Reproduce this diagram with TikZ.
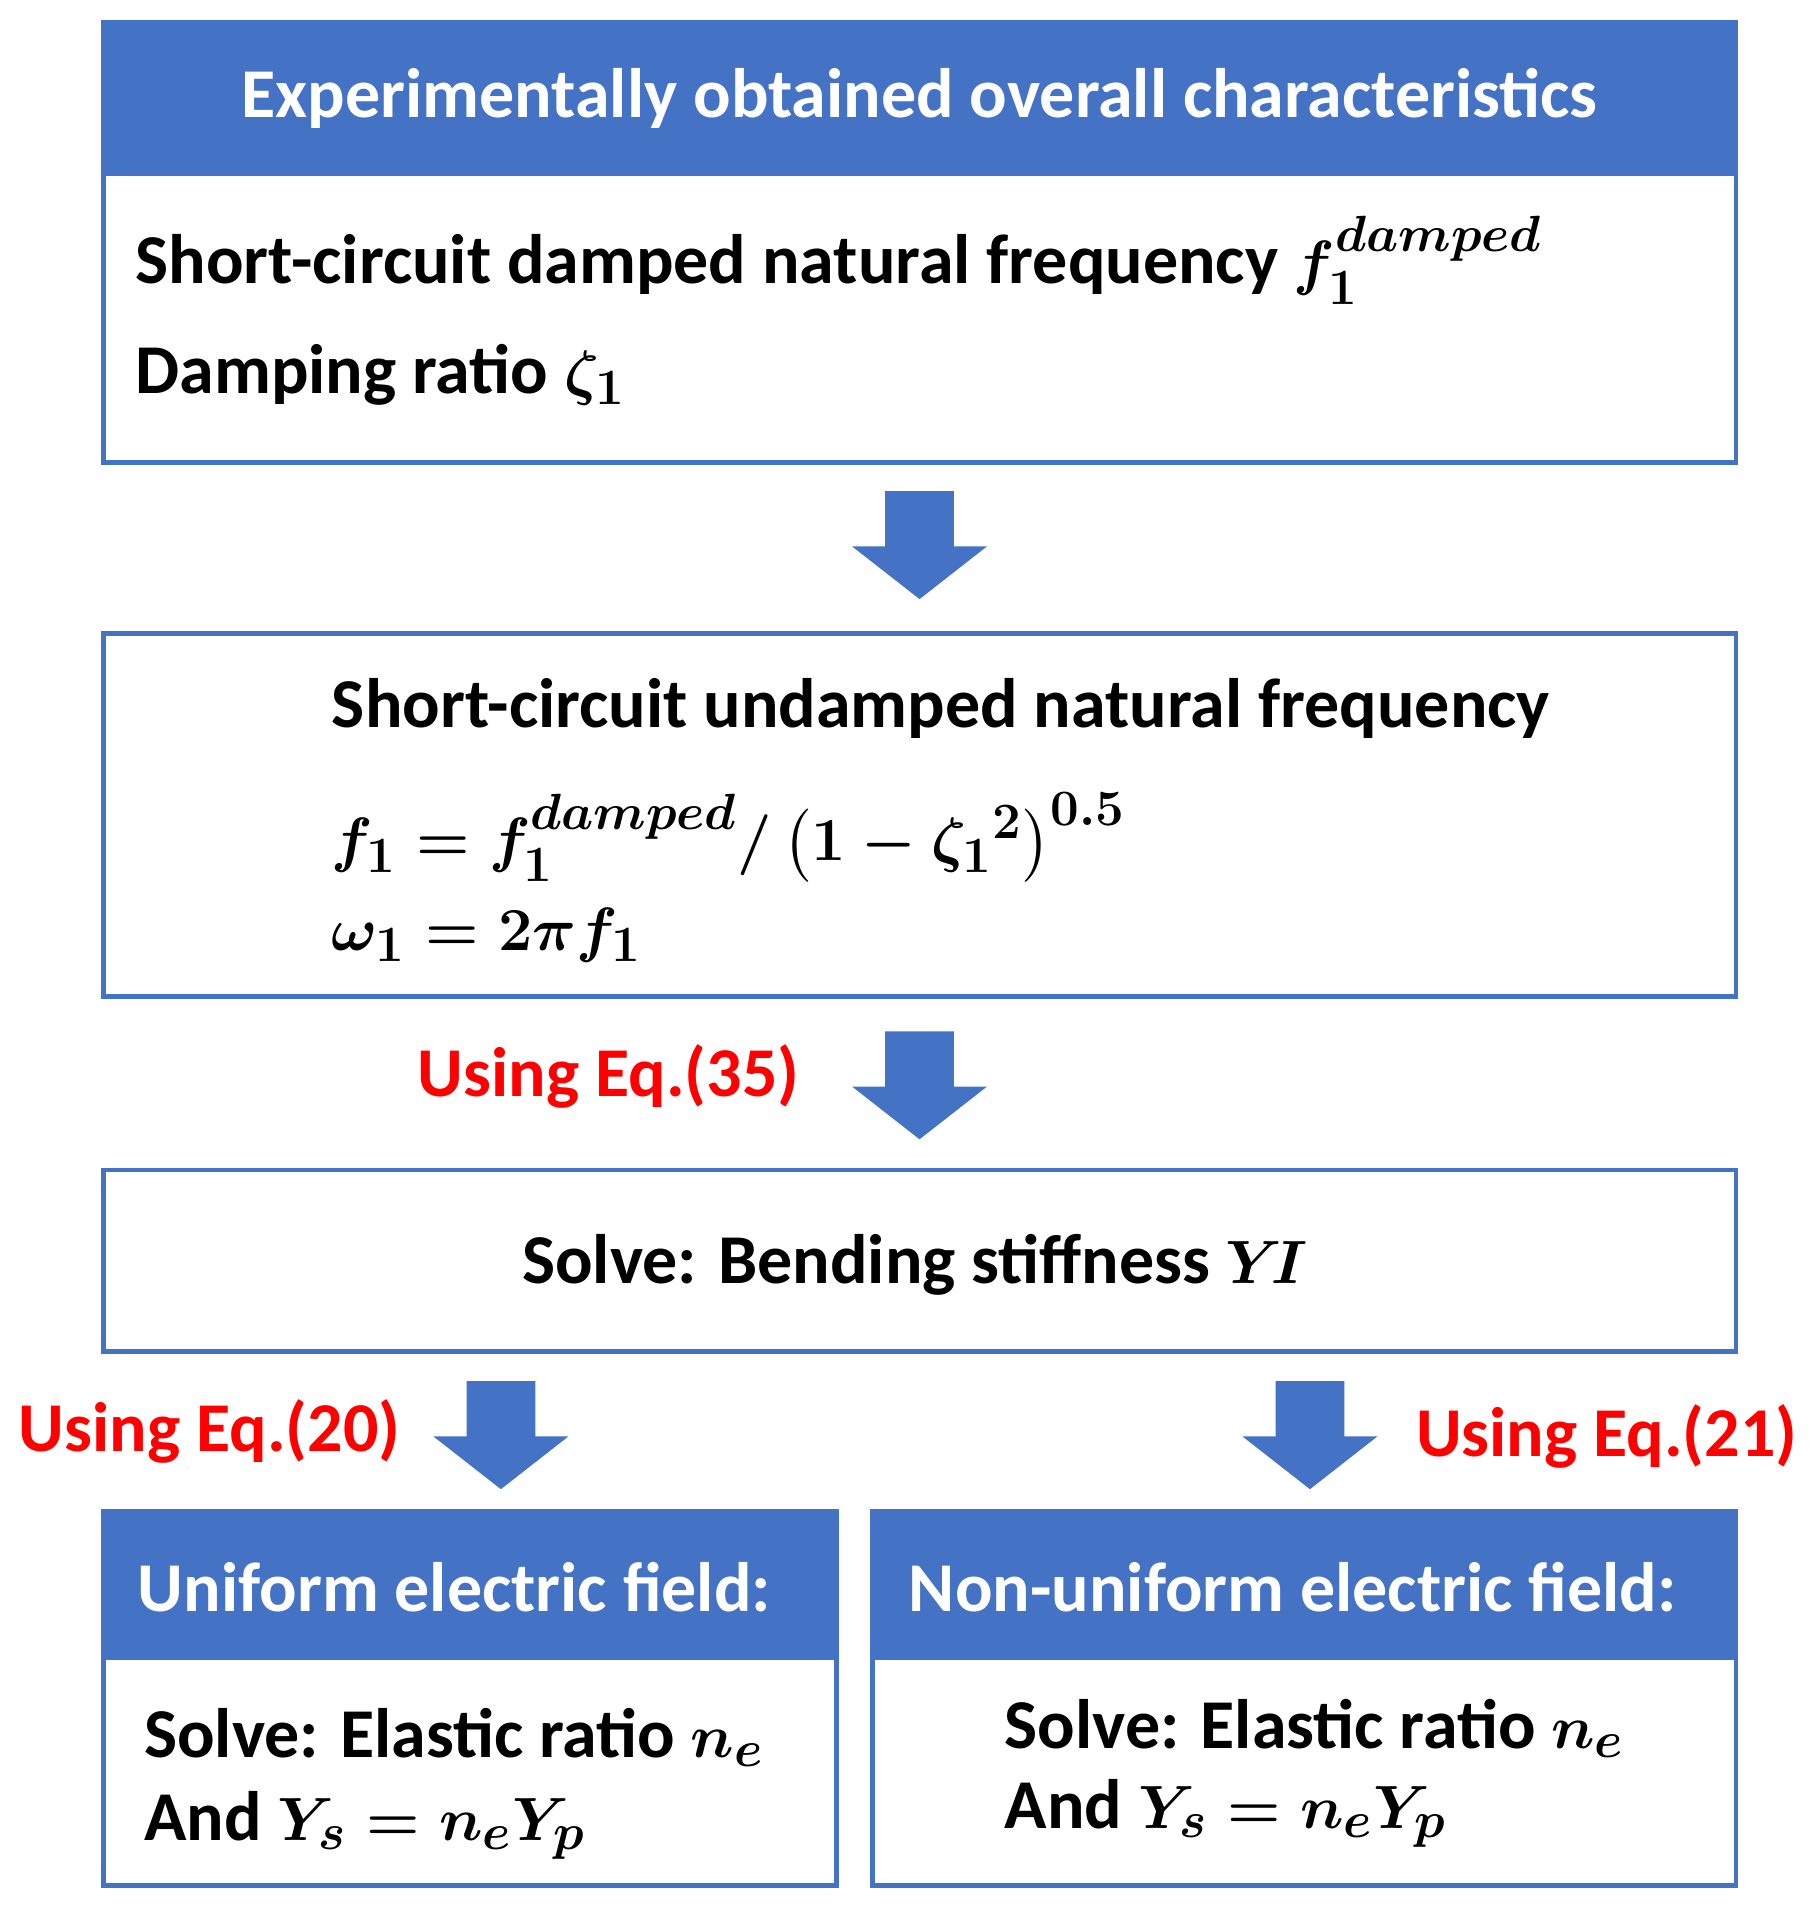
\documentclass[tikz,border=0pt]{standalone}
\usepackage{amsmath}
\usepackage{fontspec}
\setmainfont{Carlito}
\definecolor{bl}{HTML}{4472C4}
\definecolor{rd}{HTML}{FF0000}
\newcommand{\barrow}[2]{\fill[bl] (#1-28,#2) -- (#1+28,#2) -- (#1+28,#2+45) -- (#1+55,#2+45) -- (#1,#2+88) -- (#1-55,#2+45) -- (#1-28,#2+45) -- cycle;}
\begin{document}
\begin{tikzpicture}[x=0.5pt,y=-0.5pt,
  box/.style={draw=bl,line width=2pt,rectangle,inner sep=0pt},
  hdr/.style={fill=bl,rectangle,inner sep=0pt},
  txt/.style={anchor=west,inner sep=0pt,font=\fontsize{28.5}{34}\selectfont\bfseries\boldmath},
  red/.style={txt,text=rd}]
\useasboundingbox (0,0) rectangle (1480,1568);
% box 1
\node[box,minimum width=665pt,minimum height=179.5pt] (b1) at (749,197.5) {};
\node[hdr,minimum width=666pt,minimum height=62.5pt] (h1) at (749,80.5) {};
\node[txt,anchor=center,text=white] (h1t) at (749,80) {Experimentally obtained overall characteristics};
\node[txt] (t11) at (110,212) {Short-circuit damped natural frequency $f_1^{damped}$};
\node[txt] (t12) at (110,305) {Damping ratio $\zeta_1$};
\barrow{749}{400}
% box 2
\node[box,minimum width=665pt,minimum height=148pt] (b2) at (749,664) {};
\node[txt] (t21) at (270,577) {Short-circuit undamped natural frequency};
\node[txt] (t22) at (270,682) {$f_1 = f_1^{damped}/\left(1-{\zeta_1}^2\right)^{0.5}$};
\node[txt] (t23) at (270,762) {$\omega_1 = 2\pi f_1$};
\barrow{749}{840}
\node[red] (e35) at (340,877) {Using Eq.(35)};
% box 3
\node[box,minimum width=665pt,minimum height=74pt] (b3) at (749,1027) {};
\node[txt,anchor=center] (t31) at (745,1030) {Solve: Bending stiffness $Y\!I$};
\barrow{408}{1125}
\barrow{1067}{1125}
\node[red] (e20) at (15,1166) {Using Eq.(20)};
\node[red] (e21) at (1153,1170) {Using Eq.(21)};
% box 4
\node[box,minimum width=298.5pt,minimum height=152.5pt] (b4) at (382.5,1383.5) {};
\node[hdr,minimum width=299.5pt,minimum height=60.5pt] (h4) at (382.5,1291.5) {};
\node[txt,text=white] (h4t) at (112,1293) {Uniform electric field:};
\node[txt] (t41) at (117,1415) {Solve: Elastic ratio $n_e$};
\node[txt] (t42) at (117,1487) {And $Y_s = n_eY_p$};
% box 5
\node[box,minimum width=351.5pt,minimum height=152.5pt] (b5) at (1062.5,1383.5) {};
\node[hdr,minimum width=352.5pt,minimum height=60.5pt] (h5) at (1062.5,1291.5) {};
\node[txt,text=white] (h5t) at (740,1293) {Non-uniform electric field:};
\node[txt] (t51) at (818,1408) {Solve: Elastic ratio $n_e$};
\node[txt] (t52) at (818,1477) {And $Y_s = n_eY_p$};
\end{tikzpicture}
\end{document}
